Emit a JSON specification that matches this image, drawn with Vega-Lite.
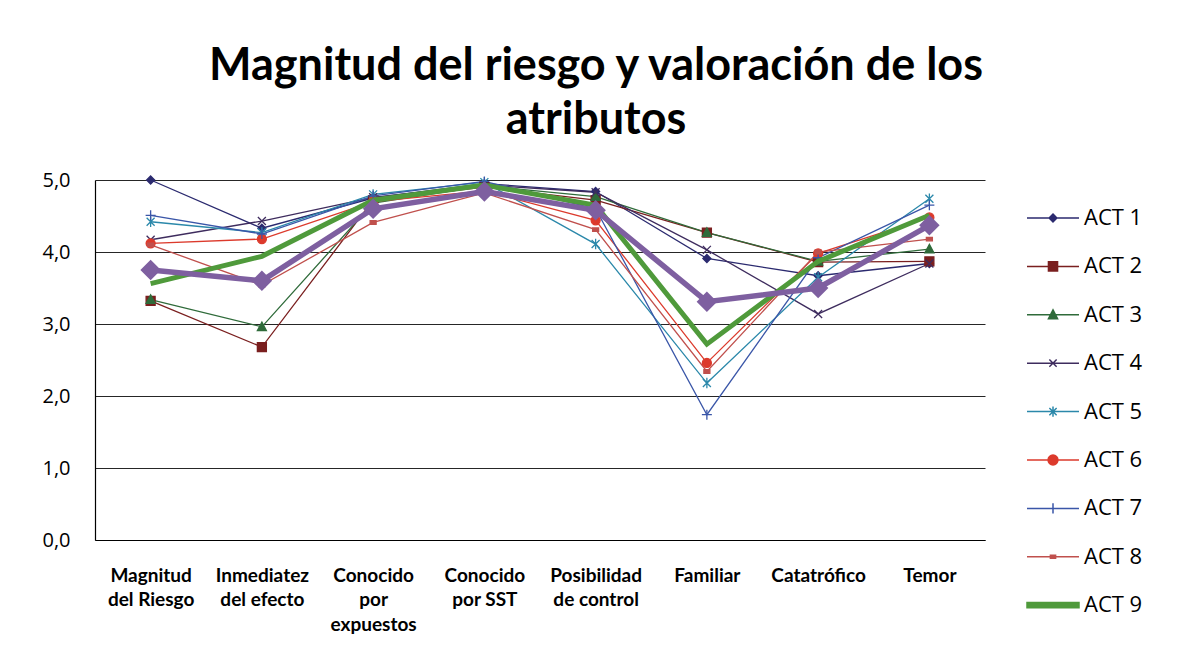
{
  "$schema": "https://vega.github.io/schema/vega-lite/v6.json",
  "width": 890,
  "height": 360,
  "autosize": {"type": "none"},
  "padding": {"left": 95, "top": 180, "right": 195, "bottom": 123},
  "background": "#ffffff",
  "config": {
    "view": {"stroke": null},
    "font": "Lato"
  },
  "title": {
    "text": ["Magnitud del riesgo y valoración de los", "atributos"],
    "font": "Lato",
    "fontSize": 45,
    "fontWeight": "bold",
    "lineHeight": 54,
    "color": "#000000",
    "anchor": "middle",
    "frame": "group",
    "dx": 56,
    "offset": 27
  },
  "data": {
    "values": [
      {"series": "ACT 1", "attr": "Magnitud del Riesgo", "value": 5.0},
      {"series": "ACT 1", "attr": "Inmediatez del efecto", "value": 4.33},
      {"series": "ACT 1", "attr": "Conocido por expuestos", "value": 4.75},
      {"series": "ACT 1", "attr": "Conocido por SST", "value": 4.95},
      {"series": "ACT 1", "attr": "Posibilidad de control", "value": 4.84},
      {"series": "ACT 1", "attr": "Familiar", "value": 3.91},
      {"series": "ACT 1", "attr": "Catatrófico", "value": 3.67},
      {"series": "ACT 1", "attr": "Temor", "value": 3.84},
      {"series": "ACT 2", "attr": "Magnitud del Riesgo", "value": 3.32},
      {"series": "ACT 2", "attr": "Inmediatez del efecto", "value": 2.68},
      {"series": "ACT 2", "attr": "Conocido por expuestos", "value": 4.72},
      {"series": "ACT 2", "attr": "Conocido por SST", "value": 4.9},
      {"series": "ACT 2", "attr": "Posibilidad de control", "value": 4.72},
      {"series": "ACT 2", "attr": "Familiar", "value": 4.27},
      {"series": "ACT 2", "attr": "Catatrófico", "value": 3.86},
      {"series": "ACT 2", "attr": "Temor", "value": 3.87},
      {"series": "ACT 3", "attr": "Magnitud del Riesgo", "value": 3.34},
      {"series": "ACT 3", "attr": "Inmediatez del efecto", "value": 2.96},
      {"series": "ACT 3", "attr": "Conocido por expuestos", "value": 4.68},
      {"series": "ACT 3", "attr": "Conocido por SST", "value": 4.92},
      {"series": "ACT 3", "attr": "Posibilidad de control", "value": 4.77},
      {"series": "ACT 3", "attr": "Familiar", "value": 4.27},
      {"series": "ACT 3", "attr": "Catatrófico", "value": 3.87},
      {"series": "ACT 3", "attr": "Temor", "value": 4.04},
      {"series": "ACT 4", "attr": "Magnitud del Riesgo", "value": 4.17},
      {"series": "ACT 4", "attr": "Inmediatez del efecto", "value": 4.43},
      {"series": "ACT 4", "attr": "Conocido por expuestos", "value": 4.76},
      {"series": "ACT 4", "attr": "Conocido por SST", "value": 4.93},
      {"series": "ACT 4", "attr": "Posibilidad de control", "value": 4.83},
      {"series": "ACT 4", "attr": "Familiar", "value": 4.03},
      {"series": "ACT 4", "attr": "Catatrófico", "value": 3.14},
      {"series": "ACT 4", "attr": "Temor", "value": 3.84},
      {"series": "ACT 5", "attr": "Magnitud del Riesgo", "value": 4.42},
      {"series": "ACT 5", "attr": "Inmediatez del efecto", "value": 4.27},
      {"series": "ACT 5", "attr": "Conocido por expuestos", "value": 4.8},
      {"series": "ACT 5", "attr": "Conocido por SST", "value": 4.97},
      {"series": "ACT 5", "attr": "Posibilidad de control", "value": 4.11},
      {"series": "ACT 5", "attr": "Familiar", "value": 2.18},
      {"series": "ACT 5", "attr": "Catatrófico", "value": 3.65},
      {"series": "ACT 5", "attr": "Temor", "value": 4.74},
      {"series": "ACT 6", "attr": "Magnitud del Riesgo", "value": 4.12},
      {"series": "ACT 6", "attr": "Inmediatez del efecto", "value": 4.18},
      {"series": "ACT 6", "attr": "Conocido por expuestos", "value": 4.7},
      {"series": "ACT 6", "attr": "Conocido por SST", "value": 4.85},
      {"series": "ACT 6", "attr": "Posibilidad de control", "value": 4.44},
      {"series": "ACT 6", "attr": "Familiar", "value": 2.46},
      {"series": "ACT 6", "attr": "Catatrófico", "value": 3.98},
      {"series": "ACT 6", "attr": "Temor", "value": 4.48},
      {"series": "ACT 7", "attr": "Magnitud del Riesgo", "value": 4.51},
      {"series": "ACT 7", "attr": "Inmediatez del efecto", "value": 4.25},
      {"series": "ACT 7", "attr": "Conocido por expuestos", "value": 4.78},
      {"series": "ACT 7", "attr": "Conocido por SST", "value": 4.98},
      {"series": "ACT 7", "attr": "Posibilidad de control", "value": 4.6},
      {"series": "ACT 7", "attr": "Familiar", "value": 1.74},
      {"series": "ACT 7", "attr": "Catatrófico", "value": 3.92},
      {"series": "ACT 7", "attr": "Temor", "value": 4.65},
      {"series": "ACT 8", "attr": "Magnitud del Riesgo", "value": 4.1},
      {"series": "ACT 8", "attr": "Inmediatez del efecto", "value": 3.54},
      {"series": "ACT 8", "attr": "Conocido por expuestos", "value": 4.41},
      {"series": "ACT 8", "attr": "Conocido por SST", "value": 4.82},
      {"series": "ACT 8", "attr": "Posibilidad de control", "value": 4.31},
      {"series": "ACT 8", "attr": "Familiar", "value": 2.34},
      {"series": "ACT 8", "attr": "Catatrófico", "value": 4.0},
      {"series": "ACT 8", "attr": "Temor", "value": 4.18},
      {"series": "ACT 9", "attr": "Magnitud del Riesgo", "value": 3.56},
      {"series": "ACT 9", "attr": "Inmediatez del efecto", "value": 3.94},
      {"series": "ACT 9", "attr": "Conocido por expuestos", "value": 4.72},
      {"series": "ACT 9", "attr": "Conocido por SST", "value": 4.93},
      {"series": "ACT 9", "attr": "Posibilidad de control", "value": 4.65},
      {"series": "ACT 9", "attr": "Familiar", "value": 2.72},
      {"series": "ACT 9", "attr": "Catatrófico", "value": 3.87},
      {"series": "ACT 9", "attr": "Temor", "value": 4.51},
      {"series": "Promedio", "attr": "Magnitud del Riesgo", "value": 3.75},
      {"series": "Promedio", "attr": "Inmediatez del efecto", "value": 3.6},
      {"series": "Promedio", "attr": "Conocido por expuestos", "value": 4.6},
      {"series": "Promedio", "attr": "Conocido por SST", "value": 4.84},
      {"series": "Promedio", "attr": "Posibilidad de control", "value": 4.58},
      {"series": "Promedio", "attr": "Familiar", "value": 3.31},
      {"series": "Promedio", "attr": "Catatrófico", "value": 3.5},
      {"series": "Promedio", "attr": "Temor", "value": 4.37}
    ]
  },
  "encoding": {
    "x": {
      "field": "attr",
      "type": "nominal",
      "sort": null,
      "scale": {"type": "point", "padding": 0.5},
      "axis": {
        "title": null,
        "labelAngle": 0,
        "ticks": false,
        "domainColor": "#000000",
        "domainWidth": 1.2,
        "labelFont": "Lato",
        "labelFontSize": 19,
        "labelFontWeight": "bold",
        "labelColor": "#000000",
        "labelPadding": 26,
        "labelLineHeight": 24.5,
        "labelBaseline": "top",
        "labelLimit": 0,
        "labelExpr": "datum.label == 'Conocido por expuestos' ? ['Conocido', 'por', 'expuestos'] : (indexof(datum.label, ' ') > 0 ? [slice(datum.label, 0, indexof(datum.label, ' ')), slice(datum.label, indexof(datum.label, ' ') + 1)] : datum.label)"
      }
    },
    "y": {
      "field": "value",
      "type": "quantitative",
      "scale": {"domain": [0, 5], "nice": false, "zero": true},
      "axis": {
        "title": null,
        "values": [0, 1, 2, 3, 4, 5],
        "ticks": false,
        "grid": true,
        "gridColor": "#000000",
        "gridWidth": 1,
        "gridOpacity": 0.85,
        "domainColor": "#000000",
        "domainWidth": 1.2,
        "labelFont": "Open Sans",
        "labelFontSize": 20,
        "labelColor": "#000000",
        "labelPadding": 25,
        "labelExpr": "replace(format(datum.value, '.1f'), '.', ',')"
      }
    }
  },
  "resolve": {
    "scale": {"shape": "independent"},
    "legend": {"fill": "independent", "stroke": "independent", "shape": "independent"}
  },
  "layer": [
    {
      "transform": [{"filter": "datum.series != 'ACT 9' && datum.series != 'Promedio'"}],
      "mark": {"type": "line", "strokeWidth": 1.3},
      "encoding": {
        "stroke": {
          "field": "series",
          "type": "nominal",
          "legend": null,
          "scale": {
            "domain": ["ACT 1", "ACT 2", "ACT 3", "ACT 4", "ACT 5", "ACT 6", "ACT 7", "ACT 8", "ACT 9", "Promedio"],
            "range": ["#2B2A6F", "#7A1F1F", "#2F6B3A", "#3E2C5E", "#2B88AA", "#DC3A2C", "#3A56A8", "#C0504D", "#4F9A3B", "#7E5FA0"]
          }
        }
      }
    },
    {
      "transform": [{"filter": "datum.series != 'ACT 9' && datum.series != 'Promedio'"}],
      "mark": {"type": "point", "filled": true, "size": 100, "strokeWidth": 1.3, "opacity": 1},
      "encoding": {
        "stroke": {"field": "series", "type": "nominal", "legend": null},
        "fill": {
          "field": "series",
          "type": "nominal",
          "legend": null,
          "scale": {
            "domain": ["ACT 1", "ACT 2", "ACT 3", "ACT 4", "ACT 5", "ACT 6", "ACT 7", "ACT 8", "ACT 9", "Promedio"],
            "range": ["#2B2A6F", "#7A1F1F", "#2F6B3A", "#3E2C5E", "#2B88AA", "#DC3A2C", "#3A56A8", "#C0504D", "#4F9A3B", "#7E5FA0"]
          }
        },
        "shape": {
          "field": "series",
          "type": "nominal",
          "legend": null,
          "scale": {
            "domain": ["ACT 1", "ACT 2", "ACT 3", "ACT 4", "ACT 5", "ACT 6", "ACT 7", "ACT 8"],
            "range": [
              "M0,-0.8L0.8,0L0,0.8L-0.8,0Z",
              "M-0.9,-0.9H0.9V0.9H-0.9Z",
              "M0,-0.95L0.9,0.75H-0.9Z",
              "M-0.8,-0.8L0.8,0.8M-0.8,0.8L0.8,-0.8",
              "M-0.8,-0.8L0.8,0.8M-0.8,0.8L0.8,-0.8M0,-1.05V1.05",
              "M0.9,0A0.9,0.9 0 1,1 -0.9,0A0.9,0.9 0 1,1 0.9,0Z",
              "M-1,0H1M0,-1V1",
              "M-0.6,-0.35H0.6V0.35H-0.6Z"
            ]
          }
        }
      }
    },
    {
      "transform": [{"filter": "datum.series == 'ACT 9'"}],
      "mark": {"type": "line", "strokeWidth": 5},
      "encoding": {"stroke": {"field": "series", "type": "nominal", "legend": null}}
    },
    {
      "transform": [{"filter": "datum.series == 'Promedio'"}],
      "mark": {"type": "line", "strokeWidth": 5.5},
      "encoding": {"stroke": {"field": "series", "type": "nominal", "legend": null}}
    },
    {
      "transform": [{"filter": "datum.series == 'Promedio'"}],
      "mark": {"type": "point", "shape": "diamond", "filled": true, "size": 420, "opacity": 1},
      "encoding": {"fill": {"field": "series", "type": "nominal", "legend": null}}
    },
    {
      "transform": [{"filter": "false"}],
      "mark": {"type": "point", "filled": true, "size": 676, "strokeWidth": 1.5, "opacity": 1},
      "encoding": {
        "fill": {
          "field": "series",
          "type": "nominal",
          "legend": {"orient": "none", "legendX": 931, "legendY": 24, "title": null, "values": ["ACT 1", "ACT 2", "ACT 3", "ACT 4", "ACT 5", "ACT 6", "ACT 7", "ACT 8", "ACT 9"], "symbolSize": 676, "symbolStrokeWidth": 1.5, "symbolOpacity": 1, "labelOffset": 30, "rowPadding": 23.4, "labelFont": "Open Sans", "labelFontSize": 22, "labelColor": "#000000"}
        },
        "stroke": {
          "field": "series",
          "type": "nominal",
          "legend": {"orient": "none", "legendX": 931, "legendY": 24, "title": null, "values": ["ACT 1", "ACT 2", "ACT 3", "ACT 4", "ACT 5", "ACT 6", "ACT 7", "ACT 8", "ACT 9"], "symbolSize": 676, "symbolStrokeWidth": 1.5, "symbolOpacity": 1, "labelOffset": 30, "rowPadding": 23.4, "labelFont": "Open Sans", "labelFontSize": 22, "labelColor": "#000000"}
        },
        "shape": {
          "field": "series",
          "type": "nominal",
          "scale": {
            "domain": ["ACT 1", "ACT 2", "ACT 3", "ACT 4", "ACT 5", "ACT 6", "ACT 7", "ACT 8", "ACT 9", "Promedio"],
            "range": [
              "M-1,0H3M1,-0.3L1.3,0L1,0.3L0.7,0Z",
              "M-1,0H3M0.65,-0.35H1.35V0.35H0.65Z",
              "M-1,0H3M1,-0.38L1.35,0.3H0.65Z",
              "M-1,0H3M0.72,-0.28L1.28,0.28M0.72,0.28L1.28,-0.28",
              "M-1,0H3M0.72,-0.28L1.28,0.28M0.72,0.28L1.28,-0.28M1,-0.4V0.4",
              "M-1,0H3M1.38,0A0.38,0.38 0 1,1 0.62,0A0.38,0.38 0 1,1 1.38,0Z",
              "M-1,0H3M1,-0.4V0.4",
              "M-1,0H3M0.8,-0.12H1.2V0.12H0.8Z",
              "M-1,-0.2H3V0.2H-1Z",
              "M-1,0H3"
            ]
          },
          "legend": {"orient": "none", "legendX": 931, "legendY": 24, "title": null, "values": ["ACT 1", "ACT 2", "ACT 3", "ACT 4", "ACT 5", "ACT 6", "ACT 7", "ACT 8", "ACT 9"], "symbolSize": 676, "symbolStrokeWidth": 1.5, "symbolOpacity": 1, "labelOffset": 30, "rowPadding": 23.4, "labelFont": "Open Sans", "labelFontSize": 22, "labelColor": "#000000"}
        }
      }
    }
  ]
}
